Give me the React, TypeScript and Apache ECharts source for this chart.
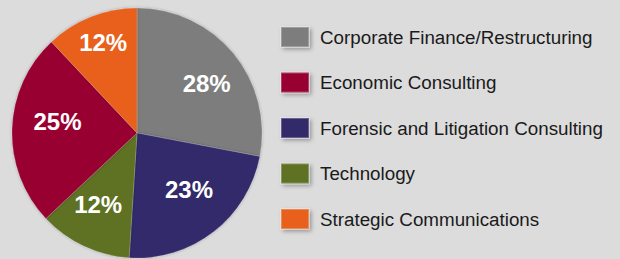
import React, { useEffect, useRef } from "react";
import * as echarts from "echarts";

const categories = [
  "Corporate Finance/Restructuring",
  "Economic Consulting",
  "Forensic and Litigation Consulting",
  "Technology",
  "Strategic Communications",
];
const shares = [28, 23, 12, 25, 12];
const sliceOrder = [
  "Corporate Finance/Restructuring",
  "Forensic and Litigation Consulting",
  "Technology",
  "Economic Consulting",
  "Strategic Communications",
];
const colors: Record<string, string> = {
  "Corporate Finance/Restructuring": "#7d7d7d",
  "Economic Consulting": "#990033",
  "Forensic and Litigation Consulting": "#33296b",
  "Technology": "#5e7124",
  "Strategic Communications": "#e8601c",
};
const labelOffsets: Record<string, number[]> = {
  "Corporate Finance/Restructuring": [3, 6],
  "Forensic and Litigation Consulting": [-1, -12],
  "Technology": [-2, -7],
  "Economic Consulting": [7, -9],
  "Strategic Communications": [-2, -10],
};

export default function App() {
  const ref = useRef<HTMLDivElement>(null);
  useEffect(() => {
    if (!ref.current) return;
    const chart = echarts.init(ref.current, undefined, { renderer: "svg" });
    const data = sliceOrder.map((n, i) => ({ name: n, value: shares[i] }));
    chart.setOption({
      animation: false,
      backgroundColor: "#dcdcdc",
      legend: {
        orient: "vertical",
        left: 275,
        top: 21,
        itemWidth: 28,
        itemHeight: 20,
        itemGap: 23.5,
        icon: "rect",
        selectedMode: false,
        data: categories.map((n) => ({
          name: n,
          itemStyle: {
            color: colors[n],
            shadowBlur: 4,
            shadowColor: "rgba(0,0,0,0.35)",
            shadowOffsetX: 2,
            shadowOffsetY: 2,
          },
        })),
        textStyle: {
          fontFamily: "Liberation Sans",
          fontSize: 18.8,
          lineHeight: 20,
          color: "#1a1a1a",
          padding: [0, 0, 0, 6],
        },
      },
      series: [
        {
          type: "pie",
          name: "main",
          center: [137, 133],
          radius: [0, 125],
          startAngle: 90,
          clockwise: true,
          label: { show: false },
          labelLine: { show: false },
          itemStyle: {
            borderColor: "rgba(255,255,255,0.25)",
            borderWidth: 0.6,
            shadowBlur: 3,
            shadowColor: "rgba(0,0,0,0.3)",
          },
          data: data.map((d) => ({ ...d, itemStyle: { color: colors[d.name] } })),
        },
        {
          type: "pie",
          name: "labels",
          center: [137, 133],
          radius: [42, 125],
          startAngle: 90,
          clockwise: true,
          silent: true,
          itemStyle: { color: "rgba(0,0,0,0)" },
          label: {
            show: true,
            position: "inside",
            formatter: "{c}%",
            color: "#ffffff",
            fontFamily: "Liberation Sans",
            fontWeight: "bold",
            fontSize: 24,
          },
          labelLine: { show: false },
          data: data.map((d) => ({
            ...d,
            label: { offset: labelOffsets[d.name] },
          })),
        },
      ],
    });
    return () => chart.dispose();
  }, []);
  return (
    <div
      ref={ref}
      style={{ position: "absolute", left: 0, top: 0, width: 620, height: 259 }}
    />
  );
}
